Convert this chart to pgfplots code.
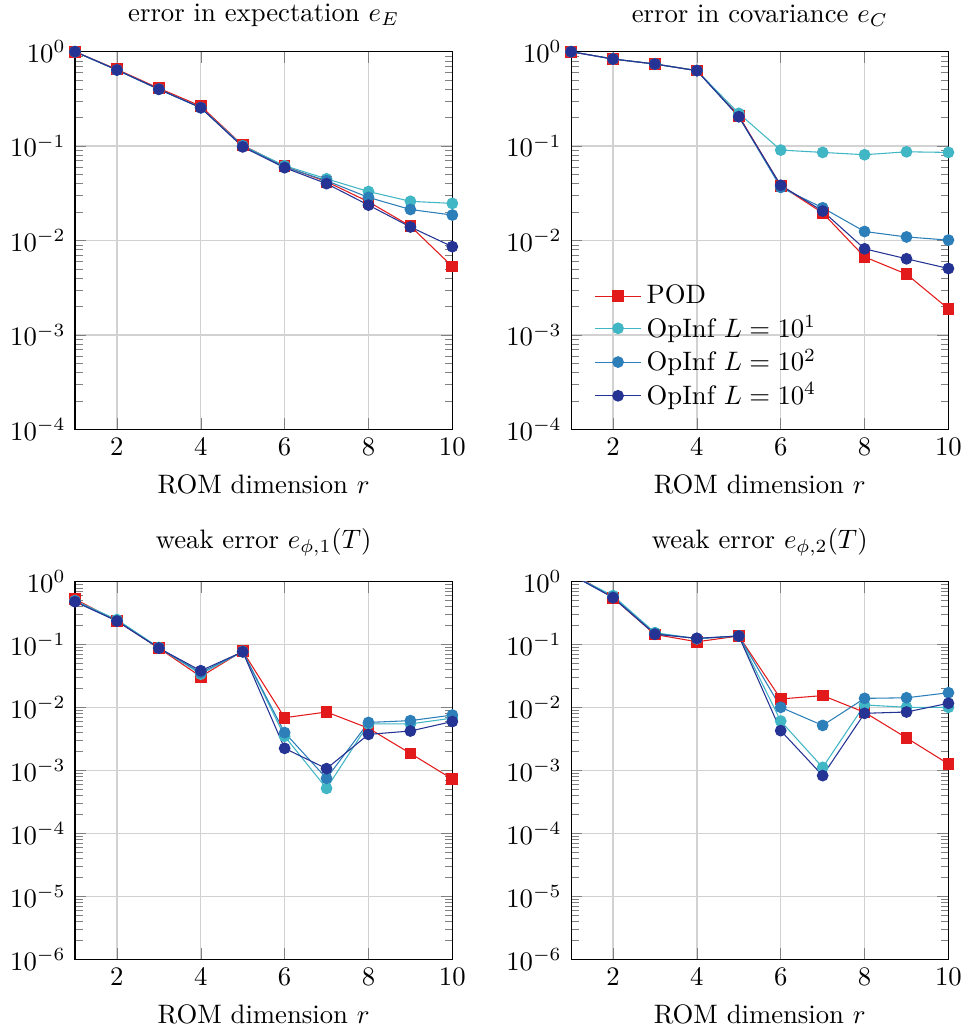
\documentclass[border=0pt]{standalone}
\usepackage{pgfplots}
\pgfplotsset{compat=1.18}
\usepgfplotslibrary{groupplots}
\definecolor{cpod}{RGB}{227,26,28}
\definecolor{cone}{RGB}{65,182,196}
\definecolor{ctwo}{RGB}{44,127,184}
\definecolor{cfour}{RGB}{37,52,148}
\begin{document}
\begin{tikzpicture}
\begin{groupplot}[
  group style={group size=2 by 2, horizontal sep=44.5pt, vertical sep=57.1pt},
  scale only axis, width=141.4pt, height=141.5pt,
  ymode=log, xmin=1, xmax=10, xtick={2,4,6,8,10},
  grid=major, major grid style={gray!35, line width=0.5pt},
  xlabel={ROM dimension $r$},
  legend cell align=left,
  legend style={draw=none, fill=none, row sep=-1pt, at={(0.04,0.025)}, anchor=south west},
]
\nextgroupplot[title={error in expectation $e_E$}, ymin=1e-4, ymax=1]
\addplot[cpod, mark=square*, mark options={solid,fill=cpod}] coordinates {(1,1.0)(2,0.65)(3,0.41)(4,0.265)(5,0.102)(6,0.061)(7,0.042)(8,0.0257)(9,0.0142)(10,0.0053)};
\addplot[cone, mark=*, mark options={solid,fill=cone}] coordinates {(1,1.0)(2,0.64)(3,0.40)(4,0.255)(5,0.101)(6,0.062)(7,0.045)(8,0.033)(9,0.026)(10,0.0247)};
\addplot[ctwo, mark=*, mark options={solid,fill=ctwo}] coordinates {(1,1.0)(2,0.64)(3,0.40)(4,0.255)(5,0.100)(6,0.060)(7,0.043)(8,0.0286)(9,0.0213)(10,0.0186)};
\addplot[cfour, mark=*, mark options={solid,fill=cfour}] coordinates {(1,1.0)(2,0.64)(3,0.40)(4,0.255)(5,0.098)(6,0.059)(7,0.040)(8,0.0237)(9,0.0139)(10,0.0086)};
\nextgroupplot[title={error in covariance $e_C$}, ymin=1e-4, ymax=1]
\addplot[cpod, mark=square*, mark options={solid,fill=cpod}] coordinates {(1,1.0)(2,0.836)(3,0.74)(4,0.63)(5,0.21)(6,0.038)(7,0.0196)(8,0.0067)(9,0.0044)(10,0.00189)};
\addlegendentry{POD}
\addplot[cone, mark=*, mark options={solid,fill=cone}] coordinates {(1,1.0)(2,0.836)(3,0.74)(4,0.63)(5,0.222)(6,0.0907)(7,0.0857)(8,0.081)(9,0.087)(10,0.0857)};
\addlegendentry{OpInf $L=10^1$}
\addplot[ctwo, mark=*, mark options={solid,fill=ctwo}] coordinates {(1,1.0)(2,0.836)(3,0.74)(4,0.63)(5,0.205)(6,0.0365)(7,0.0222)(8,0.01245)(9,0.0109)(10,0.0101)};
\addlegendentry{OpInf $L=10^2$}
\addplot[cfour, mark=*, mark options={solid,fill=cfour}] coordinates {(1,1.0)(2,0.836)(3,0.74)(4,0.63)(5,0.205)(6,0.0385)(7,0.0205)(8,0.00816)(9,0.0064)(10,0.00505)};
\addlegendentry{OpInf $L=10^4$}
\nextgroupplot[title={weak error $e_{\phi,1}(T)$}, ymin=1e-6, ymax=1]
\addplot[cpod, mark=square*, mark options={solid,fill=cpod}] coordinates {(1,0.53)(2,0.237)(3,0.088)(4,0.031)(5,0.079)(6,0.0069)(7,0.0085)(8,0.0047)(9,0.00187)(10,0.00073)};
\addplot[cone, mark=*, mark options={solid,fill=cone}] coordinates {(1,0.50)(2,0.25)(3,0.09)(4,0.034)(5,0.078)(6,0.0035)(7,0.00052)(8,0.0055)(9,0.0055)(10,0.0068)};
\addplot[ctwo, mark=*, mark options={solid,fill=ctwo}] coordinates {(1,0.49)(2,0.24)(3,0.088)(4,0.036)(5,0.077)(6,0.0040)(7,0.00075)(8,0.0058)(9,0.0062)(10,0.0076)};
\addplot[cfour, mark=*, mark options={solid,fill=cfour}] coordinates {(1,0.48)(2,0.237)(3,0.088)(4,0.0385)(5,0.077)(6,0.00225)(7,0.00107)(8,0.00375)(9,0.00424)(10,0.0060)};
\nextgroupplot[title={weak error $e_{\phi,2}(T)$}, ymin=1e-6, ymax=1]
\addplot[cpod, mark=square*, mark options={solid,fill=cpod}] coordinates {(1,1.4)(2,0.557)(3,0.145)(4,0.111)(5,0.137)(6,0.0137)(7,0.0155)(8,0.0084)(9,0.0033)(10,0.00127)};
\addplot[cone, mark=*, mark options={solid,fill=cone}] coordinates {(1,1.3)(2,0.60)(3,0.155)(4,0.124)(5,0.137)(6,0.0061)(7,0.00112)(8,0.011)(9,0.0101)(10,0.0101)};
\addplot[ctwo, mark=*, mark options={solid,fill=ctwo}] coordinates {(1,1.3)(2,0.57)(3,0.15)(4,0.125)(5,0.137)(6,0.0101)(7,0.0052)(8,0.014)(9,0.0143)(10,0.0172)};
\addplot[cfour, mark=*, mark options={solid,fill=cfour}] coordinates {(1,1.3)(2,0.557)(3,0.146)(4,0.126)(5,0.137)(6,0.0043)(7,0.00083)(8,0.0081)(9,0.0085)(10,0.0117)};
\end{groupplot}
\pgfresetboundingbox
\path[use as bounding box] ([xshift=-28.1pt,yshift=19.37pt]group c1r1.north west) rectangle ([xshift=6pt,yshift=-27.24pt]group c2r2.south east);
\end{tikzpicture}
\end{document}
